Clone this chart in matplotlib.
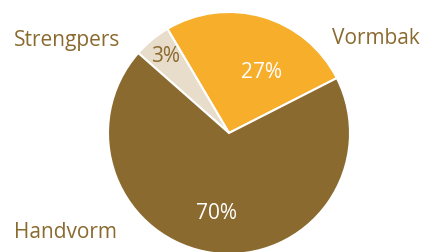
import matplotlib.pyplot as plt

# slices, listed counterclockwise from the Vormbak/Handvorm boundary
categories = ["Vormbak", "Strengpers", "Handvorm"]
shares = [26, 5, 69]
pct_labels = ["27%", "3%", "70%"]

colors = ["#F6AE2B", "#E8DDCB", "#8A6A2F"]
pct_colors = ["white", "#8A6A2F", "white"]
text_color = "#8A6A2F"

plt.rcParams["font.family"] = ["Open Sans", "DejaVu Sans"]

fig = plt.figure(figsize=(4.25, 2.53), dpi=100)
ax = fig.add_axes([0, 0, 1, 1])

W, H = 425, 253
wedges, _ = ax.pie(shares, colors=colors, startangle=27, counterclock=True,
                   center=(229, H - 134), radius=121, frame=True,
                   wedgeprops=dict(edgecolor="white", linewidth=1.5))

# percentage labels inside the slices
pct_pos = [(262, 72), (166, 56), (217, 214)]
for txt, c, (px, py) in zip(pct_labels, pct_colors, pct_pos):
    ax.text(px, H - py, txt, color=c, fontsize=15, ha="center", va="center")

# category labels outside
name_pos = [(332, 38, "left"), (14, 40, "left"), (14, 233, "left")]
for name, (px, py, ha) in zip(categories, name_pos):
    ax.text(px, H - py, name, color=text_color, fontsize=15, ha=ha, va="center")

ax.set_xlim(0, W)
ax.set_ylim(0, H)
ax.axis("off")

fig.savefig("out.png", dpi=100)
